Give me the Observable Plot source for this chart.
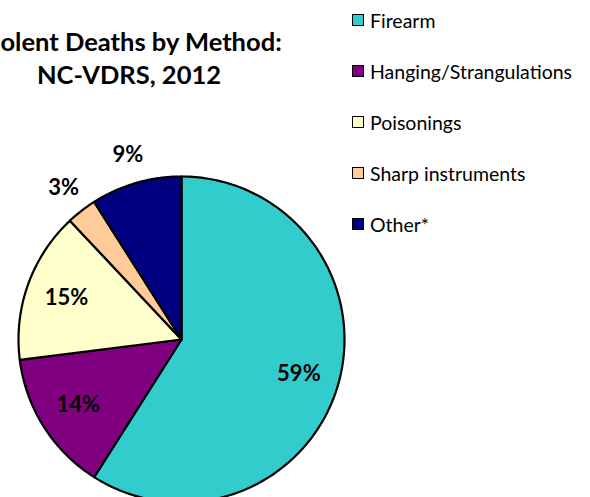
<!DOCTYPE html>
<html><head><meta charset="utf-8">
<script src="https://cdn.jsdelivr.net/npm/d3@7"></script>
<script src="https://cdn.jsdelivr.net/npm/@observablehq/plot@0.6"></script>
<style>
body{margin:0;background:#fff;font-family:Lato,"Open Sans",sans-serif;}
#wrap{position:relative;width:590px;height:497px;overflow:hidden;}
#chart{position:absolute;left:0;top:0;}
#title{position:absolute;left:-71px;width:400px;top:25px;text-align:center;font-weight:bold;font-size:25.5px;line-height:33px;color:#000;}
#legend{position:absolute;left:352px;top:8px;}
.item{display:flex;align-items:center;height:24px;margin-bottom:27px;font-size:19.5px;color:#000;}
.sw{width:10px;height:10px;border:1.5px solid #000;margin-right:6px;flex:none;}
</style></head><body>
<div id="wrap"><div id="chart"></div><div id="title"></div><div id="legend"></div></div>
<script>
const methods = ["Firearm", "Hanging/Strangulations", "Poisonings", "Sharp instruments", "Other*"];
const shares = [59, 14, 15, 3, 9];
const colors = ["#33CCCC", "#800080", "#FFFFCC", "#FFCC99", "#000080"];
const titleLines = ["Violent Deaths by Method:", "NC-VDRS, 2012"];

// build slice polygons from shares (clockwise from 12 o'clock)
const total = d3.sum(shares);
const polys = [];
const labels = [];
let cum = 0;
methods.forEach((m, i) => {
  const a0 = cum / total * 2 * Math.PI;
  cum += shares[i];
  const a1 = cum / total * 2 * Math.PI;
  polys.push({method: m, x: 0, y: 0});
  const n = Math.max(2, Math.ceil((a1 - a0) / (Math.PI / 180)));
  for (let k = 0; k <= n; k++) {
    const a = a0 + (a1 - a0) * k / n;
    polys.push({method: m, x: Math.sin(a), y: Math.cos(a)});
  }
  const am = (a0 + a1) / 2;
  const r = shares[i] >= 10 ? 0.75 : 1.18;
  labels.push({method: m, x: r * Math.sin(am), y: r * Math.cos(am), text: shares[i] + "%"});
});

const plot = Plot.plot({
  width: 590, height: 497,
  margin: 0,
  x: {domain: [-1, 1], range: [18, 344], axis: null},
  y: {domain: [-1, 1], range: [502, 176], axis: null},
  color: {domain: methods, range: colors},
  style: {overflow: "visible", background: "transparent"},
  marks: [
    Plot.line(polys, {x: "x", y: "y", z: "method", fill: "method", stroke: "#000", strokeWidth: 2.2, strokeLinejoin: "round", curve: "linear-closed"}),
    Plot.text(labels, {x: "x", y: "y", text: "text", fontSize: 22, fontWeight: "bold", fontFamily: "Lato, sans-serif", fill: "#000"})
  ]
});
document.getElementById("chart").appendChild(plot);

document.getElementById("title").innerHTML = titleLines.map(t => `<div>${t}</div>`).join("");
const lg = document.getElementById("legend");
methods.forEach((m, i) => {
  const it = document.createElement("div");
  it.className = "item";
  it.innerHTML = `<span class="sw" style="background:${colors[i]}"></span><span>${m}</span>`;
  lg.appendChild(it);
});
</script>
</body></html>
